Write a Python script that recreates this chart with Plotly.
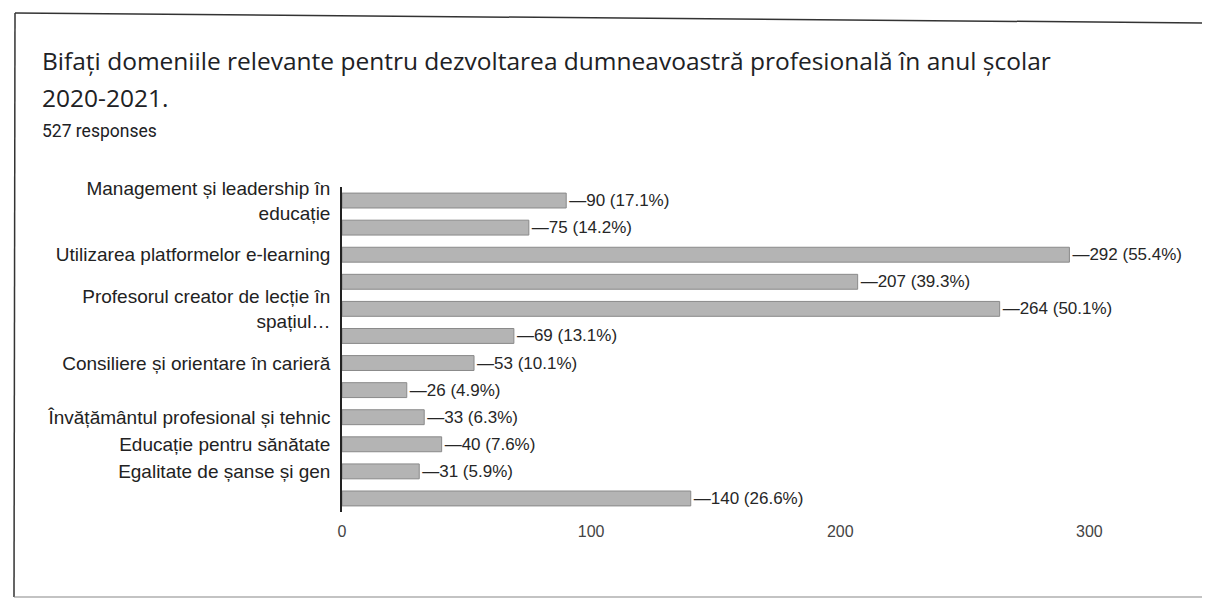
import plotly.graph_objects as go

categories = [
    "Management și leadership în<br>educație",
    "",
    "Utilizarea platformelor e-learning",
    "",
    "Profesorul creator de lecție în<br>spațiul…",
    "",
    "Consiliere și orientare în carieră",
    "",
    "Învățământul profesional și tehnic",
    "Educație pentru sănătate",
    "Egalitate de șanse și gen",
    "",
]
values = [90, 75, 292, 207, 264, 69, 53, 26, 33, 40, 31, 140]
percents = [17.1, 14.2, 55.4, 39.3, 50.1, 13.1, 10.1, 4.9, 6.3, 7.6, 5.9, 26.6]
x_ticks = [0, 100, 200, 300]

title_line1 = "Bifați domeniile relevante pentru dezvoltarea dumneavoastră profesională în anul școlar"
title_line2 = "2020-2021."
subtitle_text = "527 responses"

OFF = 8  # page body margin
W, H = 1194, 590
# screen-space layout targets converted to figure space
ML = 342 - OFF
MT = 187 - OFF
MB = H - (512 - OFF)
MR = W - (1189 - OFF)
pw, ph = W - ML - MR, H - MT - MB

def px(x):
    return (x - OFF - ML) / pw

def py(y):
    return 1 - (y - OFF - MT) / ph

idx = list(range(len(categories)))
labels = [f"—{v} ({p}%)" for v, p in zip(values, percents)]

fig = go.Figure(go.Bar(
    x=values, y=idx, orientation="h",
    marker=dict(color="#b4b4b4", line=dict(color="#8a8a8a", width=1)),
    text=labels, textposition="outside", cliponaxis=False, constraintext="none",
    textfont=dict(family="Liberation Sans, Arial", size=17, color="#262626"),
    hoverinfo="skip",
))

def seg(x0, y0, x1, y1, color="#333", width=1.5):
    return dict(type="line", xref="paper", yref="paper",
                x0=px(x0), y0=py(y0), x1=px(x1), y1=py(y1),
                line=dict(color=color, width=width), layer="below")

fig.update_layout(
    width=W, height=H,
    margin=dict(l=ML, r=MR, t=MT, b=MB, autoexpand=False),
    paper_bgcolor="#ffffff", plot_bgcolor="#ffffff",
    bargap=0.45, showlegend=False,
    xaxis=dict(range=[0, 340], tickvals=x_ticks, showgrid=False, zeroline=False,
               showline=False, ticks="", ticklabelstandoff=8, automargin=False,
               tickfont=dict(family="Liberation Sans, Arial", size=16, color="#444")),
    yaxis=dict(tickvals=idx, ticktext=categories, autorange="reversed", automargin=False,
               showgrid=False, zeroline=False, showline=True, linecolor="#222", linewidth=1.5,
               ticks="", ticklabelstandoff=6,
               tickfont=dict(family="Liberation Sans, Arial", size=19, color="#222")),
    annotations=[
        dict(text=title_line1, xref="paper", yref="paper", x=px(40), y=py(60),
             xanchor="left", yanchor="middle", align="left", showarrow=False,
             font=dict(family="Open Sans", size=24.5, color="#202124")),
        dict(text=title_line2, xref="paper", yref="paper", x=px(40), y=py(97),
             xanchor="left", yanchor="middle", align="left", showarrow=False,
             font=dict(family="Open Sans", size=24.5, color="#202124")),
        dict(text=subtitle_text, xref="paper", yref="paper", x=px(40), y=py(131),
             xanchor="left", yanchor="middle", align="left", showarrow=False,
             font=dict(family="Roboto, Liberation Sans", size=17.5, color="#202124")),
    ],
    shapes=[
        seg(15, 13, 1212, 23),
        seg(15, 13, 14, 597),
        seg(14, 597, 1212, 597, color="#888", width=1.2),
    ],
)

fig.write_html("out.html")
